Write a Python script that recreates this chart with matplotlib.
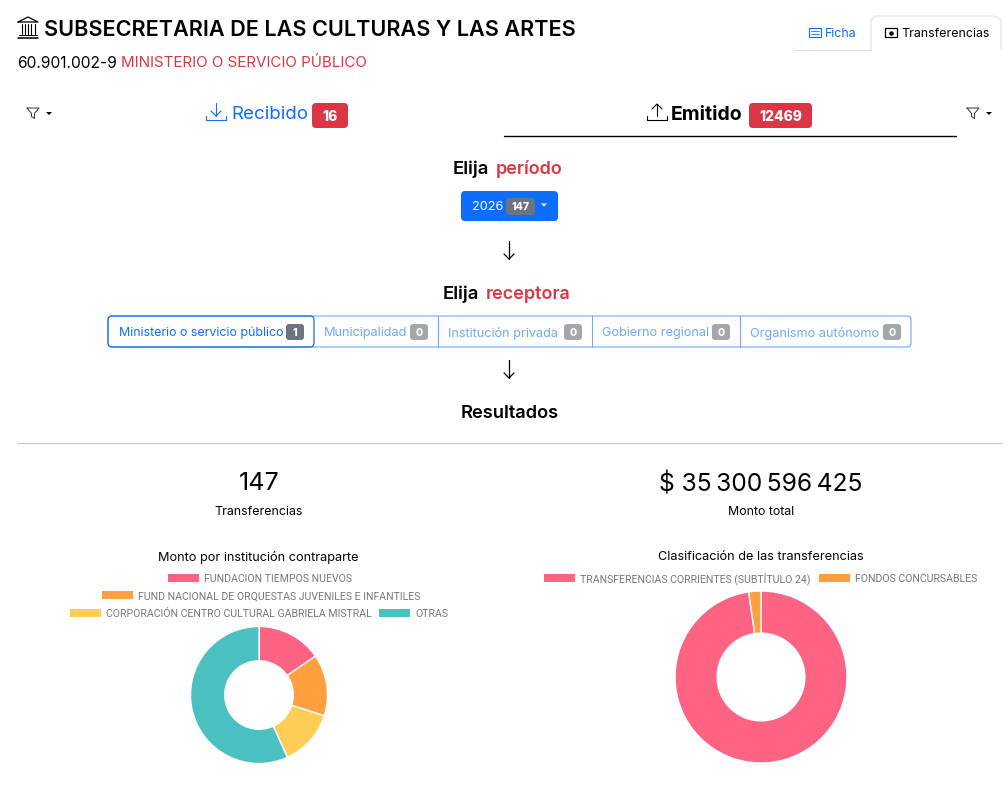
#!/usr/bin/env python3
"""Recreate the transfers dashboard screenshot."""

import matplotlib
matplotlib.use('Agg')
import matplotlib.pyplot as plt
from matplotlib.patches import FancyBboxPatch, Rectangle, Polygon

plt.rcParams['font.family'] = ['Inter', 'DejaVu Sans']

W, H = 1008, 792
BLUE = '#0d6efd'
LIGHT_BLUE = '#6ea8fe'
RED = '#dc3545'
GREY = '#6c757d'
GREY_LIGHT = '#a3a7ac'
LEGEND_TEXT = '#777777'

# Data
institution_labels = ['FUNDACION TIEMPOS NUEVOS',
                      'FUND NACIONAL DE ORQUESTAS JUVENILES E INFANTILES',
                      'CORPORACIÓN CENTRO CULTURAL GABRIELA MISTRAL', 'OTRAS']
institution_values = [15.4, 14.5, 13.3, 56.8]
classification_labels = ['TRANSFERENCIAS CORRIENTES (SUBTÍTULO 24)', 'FONDOS CONCURSABLES']
classification_values = [97.7, 2.3]
pie_colors = ['#ff6384', '#ff9f40', '#ffcd56', '#4bc0c0']

receptor_labels = ['Ministerio o servicio público', 'Municipalidad', 'Institución privada',
                   'Gobierno regional', 'Organismo autónomo']
receptor_counts = ['1', '0', '0', '0', '0']

fig = plt.figure(figsize=(W / 100, H / 100), dpi=100, facecolor='white')
ax = fig.add_axes([0, 0, 1, 1])
ax.set_xlim(0, W)
ax.set_ylim(H, 0)
ax.axis('off')


def px(size):
    return size * 0.72


def text(x, y, s, size, color='black', weight='normal', ha='left'):
    return ax.text(x, y, s, fontsize=px(size), color=color, fontweight=weight,
                   ha=ha, va='center_baseline')


def line(xs, ys, color='black', lw=1.0):
    ax.plot(xs, ys, color=color, lw=lw, solid_capstyle='round', solid_joinstyle='round')


def badge(x0, y0, x1, y1, s, size, color, rad=3, weight='bold', fg='white'):
    ax.add_patch(FancyBboxPatch((x0 + rad, y0 + rad), x1 - x0 - 2 * rad, y1 - y0 - 2 * rad,
                                boxstyle=f'round,pad={rad},rounding_size={rad}',
                                fc=color, ec='none'))
    text((x0 + x1) / 2, (y0 + y1) / 2, s, size, fg, weight, 'center')


def caret(x, y, color='black'):
    ax.add_patch(Polygon([(x - 3, y - 1.5), (x + 3, y - 1.5), (x, y + 1.5)], fc=color, ec='none'))


def funnel(x, y):
    line([x - 6, x + 6, x + 1.5, x + 1.5, x - 1.5, x - 1.5, x - 6],
         [y - 5, y - 5, y + 0.5, y + 5.5, y + 3.5, y + 0.5, y - 5], '#333333', 0.7)


def tray(x, y, color):
    line([x - 10, x - 10, x + 10, x + 10], [y + 4, y + 8, y + 8, y + 4], color, 0.8)


def arrow_down(x, y0, y1):
    line([x, x], [y0, y1], 'black', 0.9)
    line([x - 5, x, x + 5], [y1 - 5, y1, y1 - 5], 'black', 0.9)


# Header
bx = 28
line([bx - 10, bx + 10], [37.5, 37.5], 'black', 1.1)
line([bx - 9, bx + 9], [35, 35], 'black', 0.7)
line([bx - 10, bx, bx + 10, bx - 10], [22, 17, 22, 22], 'black', 0.9)
for dx in (-6.5, -3.2, 0, 3.2, 6.5):
    line([bx + dx, bx + dx], [24, 34], 'black', 0.8)
text(44, 28.5, 'SUBSECRETARIA DE LAS CULTURAS Y LAS ARTES', 21.6, 'black', 'semibold')
text(17, 61.5, '60.901.002-9', 15.6)
text(121, 61.5, 'MINISTERIO O SERVICIO PÚBLICO', 15.1, RED)

# Tabs
line([794, 871], [49.5, 49.5], '#dee2e6', 0.8)
line([871, 871, 875, 994, 1001, 1001], [49.5, 20, 16, 16, 20, 49.5], '#dee2e6', 0.8)
ax.add_patch(Rectangle((809, 28), 12, 9, fc='none', ec=BLUE, lw=0.8))
line([811, 819], [31, 31], BLUE, 0.6)
line([811, 819], [34, 34], BLUE, 0.6)
text(825, 32.5, 'Ficha', 12.4, BLUE)
ax.add_patch(Rectangle((885, 28), 12, 9, fc='none', ec='black', lw=0.9))
ax.plot([891], [32.5], 'o', ms=2.2, color='black')
text(901, 32.5, 'Transferencias', 12.4)

# Recibido / Emitido row
funnel(33, 113)
caret(49, 113.5)
line([216, 216], [103, 116], BLUE, 0.8)
line([211, 216, 221], [111, 116, 111], BLUE, 0.8)
tray(216, 112, BLUE)
text(231, 112.5, 'Recibido', 18.7, BLUE)
badge(312, 103, 348, 128, '16', 14, RED, rad=4, weight='heavy')
line([657, 657], [116, 104], 'black', 0.8)
line([652, 657, 662], [109, 104, 109], 'black', 0.8)
tray(657, 112, 'black')
text(671, 112.5, 'Emitido', 19.5, 'black', 'bold')
badge(749, 103, 812, 128, '12469', 14, RED, rad=4, weight='heavy')
line([504, 956], [135.5, 135.5], 'black', 1.0)
funnel(973, 113)
caret(989, 113.5)

# Period selector
text(453, 167, 'Elija', 18.5, 'black', 'semibold')
text(496, 167, 'período', 18, RED, 'semibold')
badge(461, 191, 558, 221, '', 13, BLUE, rad=4)
text(472, 205.5, '2026', 12.8, 'white')
badge(506, 198, 535, 215, '147', 10.5, GREY, rad=3, weight='heavy')
caret(544, 205, 'white')
arrow_down(509, 241, 259)

# Receptor selector
text(443, 292.5, 'Elija', 18.5, 'black', 'semibold')
text(485.5, 292.5, 'receptora', 18, RED, 'semibold')
edges = [108, 314, 438, 592, 740, 911]
ax.add_patch(FancyBboxPatch((112, 320), 795, 23, boxstyle='round,pad=4,rounding_size=4',
                            fc='none', ec=LIGHT_BLUE, lw=0.8))
ax.add_patch(FancyBboxPatch((112, 320), 198, 23, boxstyle='round,pad=4,rounding_size=4',
                            fc='none', ec=BLUE, lw=0.9))
for e in edges[2:-1]:
    line([e, e], [316, 347], LIGHT_BLUE, 0.8)
for i, (label, count) in enumerate(zip(receptor_labels, receptor_counts)):
    col = BLUE if i == 0 else LIGHT_BLUE
    text(edges[i] + 11 - (0 if i == 0 else 1), 331.5, label, 12.4 if i == 0 else 12.7, col)
    badge(edges[i + 1] - 28, 324, edges[i + 1] - 10, 340, count, 10.5,
          GREY if i == 0 else GREY_LIGHT, rad=3, weight='heavy')
arrow_down(509, 360, 378)
text(509.5, 411.5, 'Resultados', 18.3, 'black', 'semibold', 'center')
line([17, 1002], [442.5, 442.5], '#c8c8c8', 0.8)

# Totals
text(259, 481.5, '147', 25, ha='center')
text(258.5, 510.5, 'Transferencias', 12.4, ha='center')
text(760.5, 481.5, '$ 35\u2009300\u2009596\u2009425', 24.6, ha='center')
text(761, 510.5, 'Monto total', 12.4, ha='center')


def legend_entry(x, y, label, color):
    ax.add_patch(Rectangle((x, y - 4), 30.5, 8, fc=color, ec='none'))
    ax.text(x + 36, y + 0.3, label, fontsize=px(10.5), color=LEGEND_TEXT,
            family=['Roboto', 'DejaVu Sans'], ha='left', va='center_baseline')


# Left chart
text(258, 555.5, 'Monto por institución contraparte', 12.7, ha='center')
legend_entry(168, 577.5, institution_labels[0], pie_colors[0])
legend_entry(102, 595, institution_labels[1], pie_colors[1])
legend_entry(70, 612.5, institution_labels[2], pie_colors[2])
legend_entry(379, 612.5, institution_labels[3], pie_colors[3])

ax_left = fig.add_axes([(259 - 68.5) / W, 1 - (695 + 68.5) / H, 137 / W, 137 / H])
ax_left.pie(institution_values, colors=pie_colors, startangle=90, counterclock=False, radius=1,
            wedgeprops=dict(width=0.5, edgecolor='white', linewidth=1.0))
ax_left.set_xlim(-1, 1)
ax_left.set_ylim(-1, 1)

# Right chart
text(761, 555.5, 'Clasificación de las transferencias', 12.7, ha='center')
legend_entry(544, 577.5, classification_labels[0], pie_colors[0])
legend_entry(819, 577.5, classification_labels[1], pie_colors[1])

ax_right = fig.add_axes([(761 - 86) / W, 1 - (677 + 86) / H, 172 / W, 172 / H])
ax_right.pie(classification_values, colors=pie_colors[:2], startangle=90, counterclock=False, radius=1,
             wedgeprops=dict(width=0.49, edgecolor='white', linewidth=1.0))
ax_right.set_xlim(-1, 1)
ax_right.set_ylim(-1, 1)

fig.savefig('out.png', dpi=100, facecolor='white')
